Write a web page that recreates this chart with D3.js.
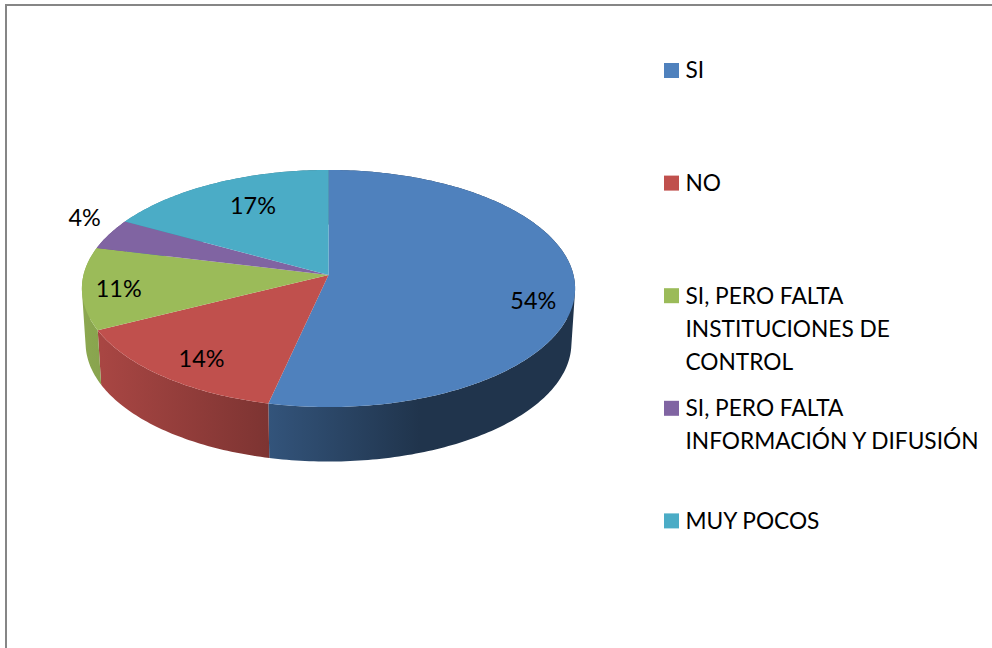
<!DOCTYPE html>
<html><head><meta charset="utf-8">
<script src="https://cdn.jsdelivr.net/npm/d3@7"></script>
<style>html,body{margin:0;padding:0;background:#fff}svg{display:block}text{font-family:Lato,"Open Sans",sans-serif;fill:#000}</style>
</head><body><svg id="c" width="992" height="648"></svg>
<script>
// Data
const categories = ["SI","NO","SI, PERO FALTA INSTITUCIONES DE CONTROL","SI, PERO FALTA INFORMACIÓN Y DIFUSIÓN","MUY POCOS"];
const values = [53.5,14.1,11.2,4.2,17];
const valueLabels = ["54%","14%","11%","4%","17%"];
const legendLines = [["SI"],["NO"],["SI, PERO FALTA","INSTITUCIONES DE","CONTROL"],["SI, PERO FALTA","INFORMACIÓN Y DIFUSIÓN"],["MUY POCOS"]];
const colors = ["#4f81bd","#c0504d","#9bbb59","#8064a2","#4bacc6"];

// Layout
const apex = {x:328.5,y:275}, rx=245, ry=117, k=0.114, depth=54.5, bottomShrink=0.985;
const labelOffsets = [[8,15],[3,4],[-13,2],[-67,-25],[17,5]];
const labelRadius = 0.8, labelSize = 23.4, legendSize = 22.7;
const legendX = 664, legendTextX = 685.5, legendSwatch = 15, legendTop = 70.5, legendStep = 112.6, lineHeight = 33;

const svg = d3.select("#c");
const project = (t,r=1,bottom=false)=>{
  const u=Math.sin(t)*r, v=-Math.cos(t)*r, w=1/(1-k*v);
  const s=bottom?bottomShrink:1;
  return [apex.x+rx*u*w*s, apex.y+ry*v*w+(bottom?depth:0)];
};
const pie = d3.pie().sort(null).value(d=>d);
const arcs = pie(values);
const line = d3.line();
const samples = a=>{
  const n=Math.max(2,Math.ceil((a.endAngle-a.startAngle)*60));
  return d3.range(n+1).map(i=>a.startAngle+(a.endAngle-a.startAngle)*i/n);
};

// frame
svg.append("path").attr("d",line([[6,648],[6,5],[992,5]])).attr("fill","none").attr("stroke","#868686").attr("stroke-width",2);

// side shading
const defs = svg.append("defs");
const shadeX=[82,268,420,575], shadeF=[0.9,0.65,0.4,0.4];
colors.forEach((c,i)=>{
  const g=defs.append("linearGradient").attr("id","side"+i).attr("gradientUnits","userSpaceOnUse")
    .attr("x1",shadeX[0]).attr("x2",shadeX[3]).attr("y1",0).attr("y2",0);
  shadeX.forEach((x,j)=>{
    const rgb=d3.rgb(c);
    g.append("stop").attr("offset",(x-shadeX[0])/(shadeX[3]-shadeX[0]))
      .attr("stop-color",d3.rgb(rgb.r*shadeF[j],rgb.g*shadeF[j],rgb.b*shadeF[j]).formatHex());
  });
});

// sides: one consistently wound quad per angular step, so the wall fills past the silhouette
const sidePath = a=>{
  const t=samples(a);
  return d3.pairs(t).map(([p,q])=>{
    const quad=[project(p),project(q),project(q,1,true),project(p,1,true)];
    if(d3.polygonArea(quad)<0) quad.reverse();
    return line(quad)+"Z";
  }).join("");
};
svg.append("g").selectAll("path").data(arcs).join("path")
  .attr("d",sidePath).attr("fill",(a,i)=>`url(#side${i})`);
// tops
svg.append("g").selectAll("path").data(arcs).join("path")
  .attr("d",a=>line([[apex.x,apex.y]].concat(samples(a).map(x=>project(x))))+"Z")
  .attr("fill",(a,i)=>colors[i]);
// data labels
svg.append("g").selectAll("text").data(arcs).join("text")
  .attr("x",(a,i)=>project((a.startAngle+a.endAngle)/2,labelRadius)[0]+labelOffsets[i][0])
  .attr("y",(a,i)=>project((a.startAngle+a.endAngle)/2,labelRadius)[1]+labelOffsets[i][1])
  .attr("text-anchor","middle").attr("dominant-baseline","central")
  .attr("font-size",labelSize).text((a,i)=>valueLabels[i]);
// legend
const lg=svg.append("g").selectAll("g").data(categories).join("g")
  .attr("transform",(d,i)=>`translate(0,${legendTop+i*legendStep})`);
lg.append("rect").attr("x",legendX).attr("y",-legendSwatch/2).attr("width",legendSwatch).attr("height",legendSwatch).attr("fill",(d,i)=>colors[i]);
lg.each(function(d,i){
  d3.select(this).selectAll("text").data(legendLines[i]).join("text")
    .attr("x",legendTextX).attr("y",(l,j)=>j*lineHeight-0.6).attr("dominant-baseline","central")
    .attr("font-size",legendSize).text(l=>l);
});
</script></body></html>
